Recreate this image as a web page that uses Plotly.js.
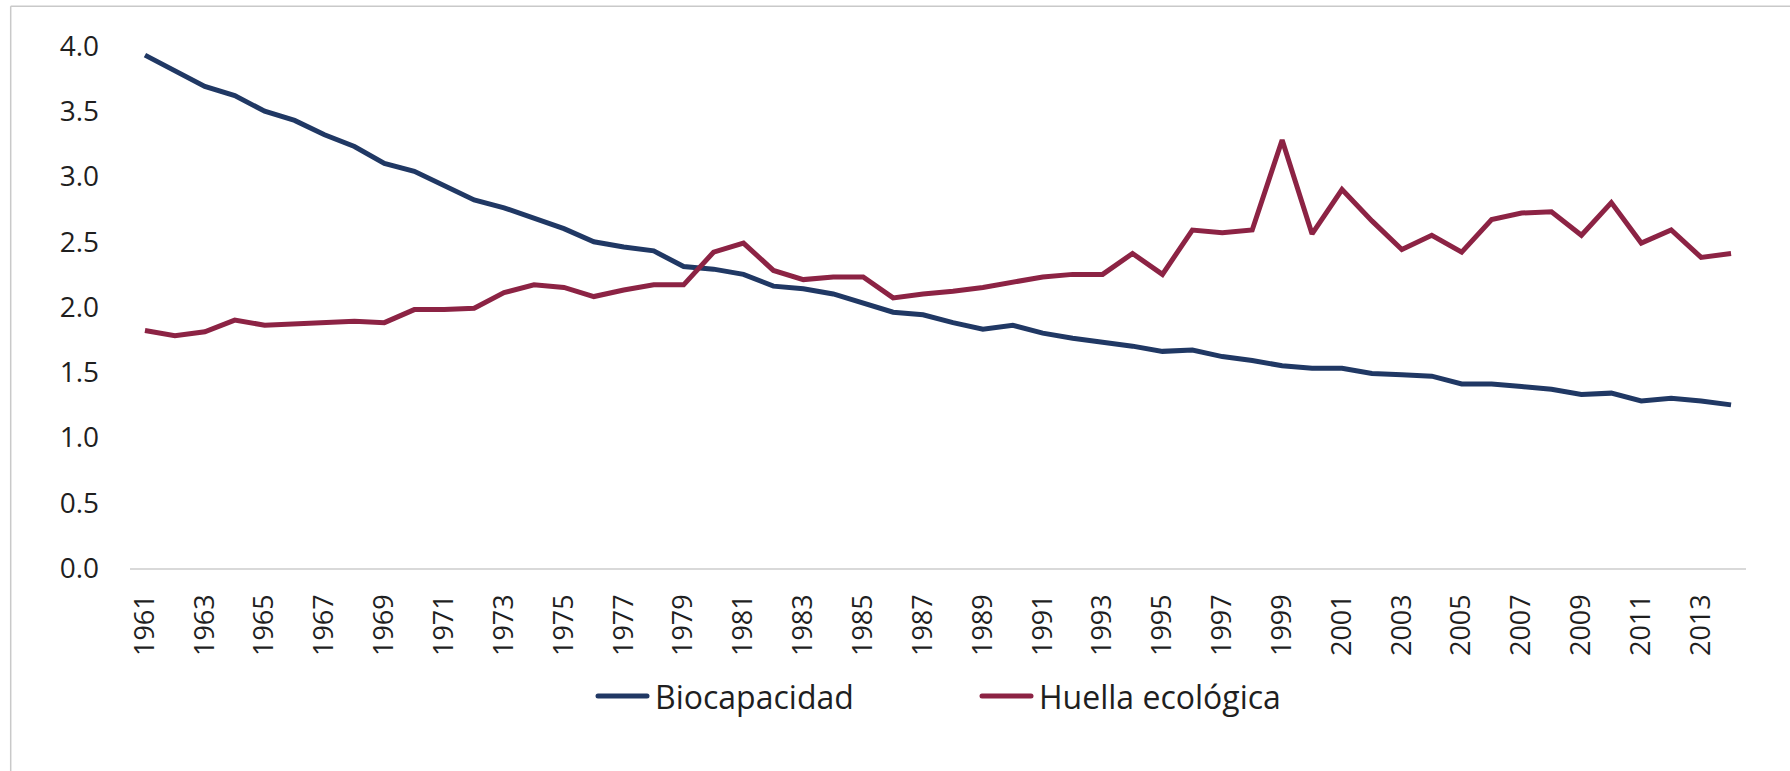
<!DOCTYPE html>
<html>
<head>
<meta charset="utf-8">
<script src="https://cdn.plot.ly/plotly-3.0.1.min.js"></script>
<style>
  html, body { margin: 0; padding: 0; background: #ffffff; }
  #chart { width: 1790px; height: 771px; }
</style>
</head>
<body>
<div id="chart"></div>
<script>
const years = [
  "1961","1962","1963","1964","1965","1966","1967","1968","1969","1970",
  "1971","1972","1973","1974","1975","1976","1977","1978","1979","1980",
  "1981","1982","1983","1984","1985","1986","1987","1988","1989","1990",
  "1991","1992","1993","1994","1995","1996","1997","1998","1999","2000",
  "2001","2002","2003","2004","2005","2006","2007","2008","2009","2010",
  "2011","2012","2013","2014"
];

const biocapacidad = [
  3.93, 3.81, 3.69, 3.62, 3.50, 3.43, 3.32, 3.23, 3.10, 3.04,
  2.93, 2.82, 2.76, 2.68, 2.60, 2.50, 2.46, 2.43, 2.31, 2.29,
  2.25, 2.16, 2.14, 2.10, 2.03, 1.96, 1.94, 1.88, 1.83, 1.86,
  1.80, 1.76, 1.73, 1.70, 1.66, 1.67, 1.62, 1.59, 1.55, 1.53,
  1.53, 1.49, 1.48, 1.47, 1.41, 1.41, 1.39, 1.37, 1.33, 1.34,
  1.28, 1.30, 1.28, 1.25
];

const huellaEcologica = [
  1.82, 1.78, 1.81, 1.90, 1.86, 1.87, 1.88, 1.89, 1.88, 1.98,
  1.98, 1.99, 2.11, 2.17, 2.15, 2.08, 2.13, 2.17, 2.17, 2.42,
  2.49, 2.28, 2.21, 2.23, 2.23, 2.07, 2.10, 2.12, 2.15, 2.19,
  2.23, 2.25, 2.25, 2.41, 2.25, 2.59, 2.57, 2.59, 3.28, 2.56,
  2.90, 2.66, 2.44, 2.55, 2.42, 2.67, 2.72, 2.73, 2.55, 2.80,
  2.49, 2.59, 2.38, 2.41
];

const seriesNames = ["Biocapacidad", "Huella ecológica"];
const xTickLabels = years.filter((y, i) => i % 2 === 0);
const yTickValues = [0, 0.5, 1, 1.5, 2, 2.5, 3, 3.5, 4];
const yTickLabels = ["0.0", "0.5", "1.0", "1.5", "2.0", "2.5", "3.0", "3.5", "4.0"];

const FONT = "Open Sans, Noto Sans, sans-serif";
const TEXT = "#1f1f1f";

const traces = [
  {
    x: years, y: biocapacidad, name: seriesNames[0], type: "scatter", mode: "lines",
    line: { color: "#203864", width: 5, shape: "linear" }
  },
  {
    x: years, y: huellaEcologica, name: seriesNames[1], type: "scatter", mode: "lines",
    line: { color: "#8C2344", width: 5, shape: "linear" }
  }
];

// plot area geometry (pixels)
const W = 1790, H = 771;
const L = 130, R = 1746, T = 45.7, B = 568.5;
const pw = R - L, ph = B - T;
const px = v => (v - L) / pw;
const py = v => (B - v) / ph;
const frameColor = "#c9c9c9";

const layout = {
  width: W, height: H,
  margin: { l: L, r: W - R, t: T, b: H - B, pad: 0 },
  paper_bgcolor: "#ffffff",
  plot_bgcolor: "#ffffff",
  font: { family: FONT, color: TEXT },
  showlegend: true,
  legend: {
    orientation: "h",
    x: px(593), xanchor: "left",
    y: py(697), yanchor: "middle",
    font: { family: FONT, size: 32, color: TEXT },
    entrywidth: 317,
    itemwidth: 52,
    bgcolor: "rgba(0,0,0,0)"
  },
  xaxis: {
    type: "category",
    tickmode: "array",
    tickvals: xTickLabels,
    ticktext: xTickLabels,
    tickangle: -90,
    tickfont: { family: FONT, size: 27, color: TEXT },
    showgrid: false,
    zeroline: false,
    showline: true,
    linecolor: "#d9d9d9",
    linewidth: 1.5,
    ticks: "",
    ticklabelstandoff: 14,
    range: [-0.5, years.length - 0.5],
    fixedrange: true
  },
  yaxis: {
    range: [0, 4],
    tickmode: "array",
    tickvals: yTickValues,
    ticktext: yTickLabels,
    tickfont: { family: FONT, size: 28, color: TEXT },
    showgrid: false,
    zeroline: false,
    showline: false,
    ticks: "",
    ticklabelstandoff: 30,
    fixedrange: true
  },
  shapes: [
    { type: "line", xref: "paper", yref: "paper",
      x0: px(10.7), x1: px(W + 5), y0: py(6), y1: py(6),
      line: { color: frameColor, width: 1.5 } },
    { type: "line", xref: "paper", yref: "paper",
      x0: px(10.7), x1: px(10.7), y0: py(6), y1: py(H + 5),
      line: { color: frameColor, width: 1.5 } }
  ]
};

Plotly.newPlot("chart", traces, layout, { displayModeBar: false, staticPlot: true }).then(gd => {
  // lengthen the legend swatch lines to match the reference
  gd.querySelectorAll(".legend .legendlines path").forEach(p => {
    p.setAttribute("d", "M5,0h49");
    p.style.strokeLinecap = "round";
  });
});
</script>
</body>
</html>
